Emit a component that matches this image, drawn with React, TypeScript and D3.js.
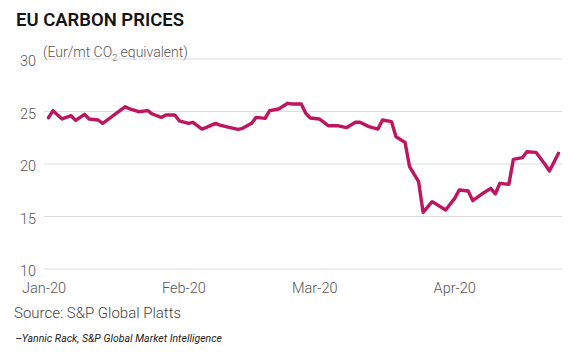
import React, { useRef, useEffect } from "react";
import * as d3 from "d3";

// EU carbon prices, Eur/mt CO2 equivalent
const dates = [
  "2020-01-02", "2020-01-03", "2020-01-05", "2020-01-07", "2020-01-08", "2020-01-10",
  "2020-01-11", "2020-01-13", "2020-01-14", "2020-01-16", "2020-01-17", "2020-01-19",
  "2020-01-20", "2020-01-22", "2020-01-24", "2020-01-25", "2020-01-27", "2020-01-28",
  "2020-01-30", "2020-01-31", "2020-02-02", "2020-02-03", "2020-02-05", "2020-02-06",
  "2020-02-08", "2020-02-09", "2020-02-11", "2020-02-13", "2020-02-14", "2020-02-16",
  "2020-02-17", "2020-02-19", "2020-02-20", "2020-02-22", "2020-02-24", "2020-02-25",
  "2020-02-27", "2020-02-28", "2020-02-29", "2020-03-02", "2020-03-04", "2020-03-06",
  "2020-03-08", "2020-03-10", "2020-03-11", "2020-03-13", "2020-03-15", "2020-03-16",
  "2020-03-18", "2020-03-19", "2020-03-21", "2020-03-22", "2020-03-24", "2020-03-25",
  "2020-03-27", "2020-03-28", "2020-03-30", "2020-04-01", "2020-04-02", "2020-04-04",
  "2020-04-05", "2020-04-07", "2020-04-09", "2020-04-10", "2020-04-11", "2020-04-13",
  "2020-04-14", "2020-04-16", "2020-04-17", "2020-04-19", "2020-04-21", "2020-04-22",
  "2020-04-24",
];

const prices = [
  24.41, 25.08, 24.29, 24.6, 24.16, 24.73,
  24.29, 24.19, 23.87, 24.5, 24.83, 25.46,
  25.24, 24.98, 25.08, 24.76, 24.44, 24.67,
  24.67, 24.1, 23.87, 23.97, 23.33, 23.49,
  23.87, 23.71, 23.49, 23.3, 23.4, 23.87,
  24.44, 24.35, 25.08, 25.24, 25.78, 25.71,
  25.71, 24.83, 24.38, 24.29, 23.65, 23.65,
  23.46, 23.97, 23.97, 23.56, 23.33, 24.19,
  24.03, 22.6, 22.06, 19.74, 18.31, 15.4,
  16.41, 16.16, 15.62, 16.73, 17.52, 17.43,
  16.51, 17.14, 17.68, 17.14, 18.16, 18.06,
  20.44, 20.6, 21.17, 21.11, 19.97, 19.33,
  21.02,
];

const yTicks = [10, 15, 20, 25, 30];
const xTickDates = ["2020-01-01", "2020-02-01", "2020-03-01", "2020-04-01"];
const xTickLabels = ["Jan-20", "Feb-20", "Mar-20", "Apr-20"];

const title = "EU CARBON PRICES";
const source = "Source: S&P Global Platts";
const credit = "--Yannic Rack, S&P Global Market Intelligence";

const W = 568;
const H = 352;
const FONT = "Roboto, 'Noto Sans', sans-serif";

const parse = d3.timeParse("%Y-%m-%d");

export default function App() {
  const svgRef = useRef<SVGSVGElement | null>(null);

  useEffect(() => {
    const svg = d3.select(svgRef.current);
    svg.selectAll("*").remove(); // clear

    const data = dates.map((d, i) => ({ date: parse(d) as Date, value: prices[i] }));

    const x = d3
      .scaleTime()
      .domain([parse("2020-01-01") as Date, parse("2020-04-25") as Date])
      .range([44, 563]);
    const y = d3.scaleLinear().domain([10, 30]).range([269, 59]);

    svg.append("rect").attr("width", W).attr("height", H).attr("fill", "#fff");

    // title + unit
    svg
      .append("text")
      .attr("x", 16)
      .attr("y", 26)
      .attr("font-family", FONT)
      .attr("font-weight", 600)
      .attr("font-size", 18.5)
      .attr("textLength", 168)
      .attr("lengthAdjust", "spacingAndGlyphs")
      .attr("fill", "#151515")
      .text(title);

    const unit = svg
      .append("text")
      .attr("x", 43)
      .attr("y", 57)
      .attr("font-family", FONT)
      .attr("font-weight", 300)
      .attr("font-size", 14)
      .attr("fill", "#555");
    unit.append("tspan").text("(Eur/mt CO");
    unit.append("tspan").attr("font-size", 9).attr("dy", 4).text("2");
    unit.append("tspan").attr("dy", -4).text(" equivalent)");

    // gridlines
    svg
      .append("g")
      .selectAll("line")
      .data(yTicks)
      .join("line")
      .attr("x1", 44)
      .attr("x2", 562)
      .attr("y1", (d) => y(d))
      .attr("y2", (d) => y(d))
      .attr("stroke", "#dcdcdc")
      .attr("stroke-width", 1);

    // y labels
    svg
      .append("g")
      .selectAll("text")
      .data(yTicks)
      .join("text")
      .attr("x", 36)
      .attr("y", (d) => y(d))
      .attr("dy", "0.5em")
      .attr("text-anchor", "end")
      .attr("font-family", FONT)
      .attr("font-weight", 300)
      .attr("font-size", 14.5)
      .attr("fill", "#555")
      .text((d) => d);

    // x labels
    svg
      .append("g")
      .selectAll("text")
      .data(xTickDates)
      .join("text")
      .attr("x", (d) => x(parse(d) as Date))
      .attr("y", 293)
      .attr("text-anchor", "middle")
      .attr("font-family", FONT)
      .attr("font-weight", 300)
      .attr("font-size", 14.5)
      .attr("fill", "#555")
      .text((d, i) => xTickLabels[i]);

    // price line
    const line = d3
      .line<{ date: Date; value: number }>()
      .x((d) => x(d.date))
      .y((d) => y(d.value));

    svg
      .append("path")
      .datum(data)
      .attr("fill", "none")
      .attr("stroke", "#be1560")
      .attr("stroke-width", 3.4)
      .attr("stroke-linejoin", "round")
      .attr("stroke-linecap", "round")
      .attr("d", line);

    // footer
    svg
      .append("text")
      .attr("x", 14)
      .attr("y", 318)
      .attr("font-family", FONT)
      .attr("font-weight", 300)
      .attr("font-size", 15)
      .attr("fill", "#444")
      .text(source);

    svg
      .append("text")
      .attr("x", 16)
      .attr("y", 342)
      .attr("font-family", FONT)
      .attr("font-style", "italic")
      .attr("font-size", 10.5)
      .attr("textLength", 206)
      .attr("fill", "#222")
      .text(credit);
  }, []);

  return (
    <div>
      <svg
        ref={svgRef}
        width={W}
        height={H}
        style={{ position: "absolute", left: 0, top: 0, display: "block" }}
      ></svg>
    </div>
  );
}
